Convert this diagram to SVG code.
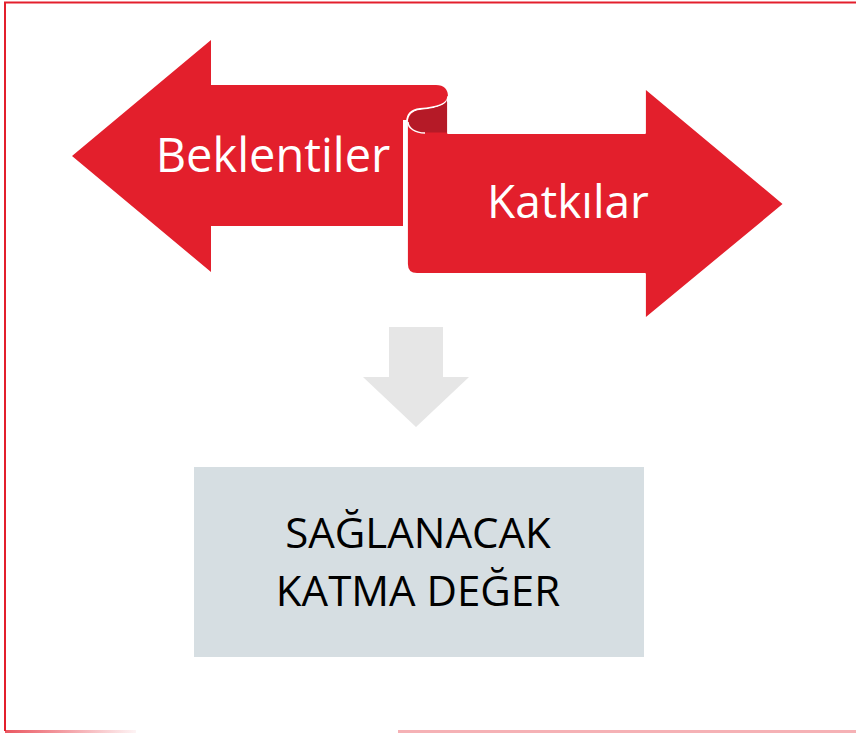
<svg xmlns="http://www.w3.org/2000/svg" width="856" height="733" viewBox="0 0 856 733">
<defs>
<style>
.red{fill:#E31F2C}
.lbl{font-family:"Open Sans","Liberation Sans",sans-serif;fill:#FFFFFF;text-anchor:middle}
.dark{font-family:"Open Sans","Liberation Sans",sans-serif;fill:#000000;text-anchor:middle}
</style>
<linearGradient id="fadeL" x1="0" y1="0" x2="1" y2="0">
<stop offset="0" stop-color="#E31F2C" stop-opacity="0.75"/>
<stop offset="1" stop-color="#E31F2C" stop-opacity="0.05"/>
</linearGradient>
</defs>
<rect width="856" height="733" fill="#FFFFFF"/>
<g id="frame" fill="none" stroke="#E31F2C">
<path d="M5,731 L5,2.5 L856,2.5" stroke-width="2"/>
<rect x="5" y="730" width="131" height="3" fill="url(#fadeL)" stroke="none"/>
<rect x="398" y="730" width="458" height="3" fill="#E31F2C" fill-opacity="0.35" stroke="none"/>
</g>
<g id="beklentiler">
<path class="red" d="M72,156 L211,40 L211,85 L436,85 Q448,85 448,97 L448,120 L403,120 L403,226 L211,226 L211,272 Z"/>
<text class="lbl" x="273" y="172" font-size="47">Beklentiler</text>
</g>
<g id="katkilar">
<path class="red" stroke="#FFFFFF" stroke-width="1.8" stroke-linejoin="round" d="M417,274 Q407,274 407,264 L407,122 C407,114 412,110 420,109 C432,108 448,105 448,97 L448,133 L645,133 L645,88 L784,204 L645,319 L645,274 Z"/>
<path d="M420,110 C432,109 447,106 447,99 L447,132.5 L425,132.5 C415,132.5 408.5,128 408.5,122 C408.5,115 413,111 420,110 Z" fill="#B51A27"/>
<path d="M408,122 C408,128 415,133 425,133" fill="none" stroke="#FFFFFF" stroke-width="1.5"/>
<text class="lbl" x="568" y="218" font-size="46">Katkılar</text>
</g>
<g id="connectors">
<path d="M389,327 L443,327 L443,377 L469,377 L416,427 L363,377 L389,377 Z" fill="#E6E6E6"/>
</g>
<g id="katma-deger">
<rect x="194" y="467" width="450" height="190" fill="#D6DEE2"/>
<text class="dark" font-size="42"><tspan x="418" y="548">SAĞLANACAK</tspan><tspan x="418" y="606">KATMA DEĞER</tspan></text>
</g>
</svg>
